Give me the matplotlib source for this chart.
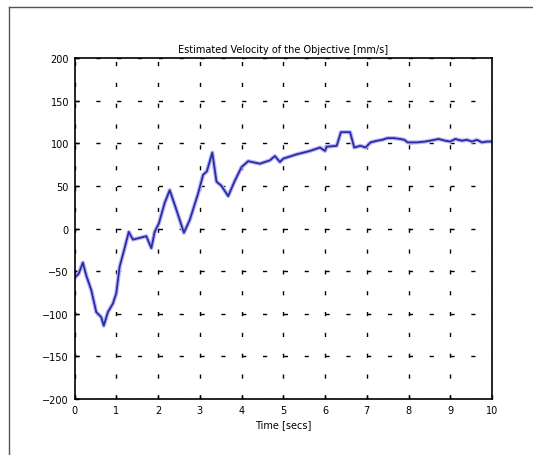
import numpy as np
import matplotlib
matplotlib.use("Agg")
import matplotlib.pyplot as plt
from matplotlib.lines import Line2D

# time samples (secs) and estimated velocity (mm/s)
time_s = [0, 0.1, 0.2, 0.28, 0.4, 0.52, 0.64, 0.7, 0.8, 0.92,
          1.0, 1.08, 1.2, 1.3, 1.4, 1.56, 1.72, 1.84, 1.92, 2.02,
          2.16, 2.28, 2.44, 2.62, 2.76, 2.96, 3.08, 3.17, 3.3, 3.4,
          3.52, 3.68, 3.84, 4.0, 4.16, 4.44, 4.68, 4.8, 4.92, 5.0,
          5.32, 5.64, 5.88, 6.0, 6.04, 6.28, 6.38, 6.6, 6.7, 6.85,
          6.97, 7.09, 7.25, 7.37, 7.49, 7.65, 7.8, 7.9, 7.98, 8.2,
          8.4, 8.52, 8.72, 8.88, 9.0, 9.12, 9.28, 9.4, 9.52, 9.64,
          9.76, 9.88, 10.0]
velocity = [-58, -53, -40, -55, -72, -98, -104, -114, -98, -88,
            -76, -45, -23, -4, -13, -11, -9, -23, -4, 6,
            30, 45, 22, -5, 10, 41, 63, 67, 89, 55,
            50, 38, 56, 72, 79, 76, 80, 85, 78, 82,
            87, 91, 95, 91, 96, 97, 113, 113, 95, 97,
            95, 101, 103, 104, 106, 106, 105, 104, 101, 101,
            102, 103, 105, 103, 102, 105, 103, 104, 102, 104,
            101, 102, 102]

x_ticks = list(range(0, 11))
y_ticks = list(range(-200, 201, 50))

fig = plt.figure(figsize=(5.33, 4.56), dpi=100)
ax = fig.add_axes([0.1398, 0.1228, 0.7833, 0.7478])

# soft halo + main line
ax.plot(time_s, velocity, color="#b8b8f0", linewidth=3.0, solid_joinstyle="round")
ax.plot(time_s, velocity, color="#2a2aa8", linewidth=1.3, solid_joinstyle="round")

ax.set_xlim(0, 10)
ax.set_ylim(-200, 200)
ax.set_xticks(x_ticks)
ax.set_yticks(y_ticks)
ax.tick_params(direction="in", length=3, width=1, labelsize=7, pad=4)
ax.grid(True, color="black", linewidth=1.0, linestyle=(0, (3, 12)))
for s in ax.spines.values():
    s.set_linewidth(1.2)

ax.set_title("Estimated Velocity of the Objective [mm/s]", fontsize=7, pad=4)
ax.set_xlabel("Time [secs]", fontsize=7, labelpad=3)

# frame of the cropped window
fig.add_artist(Line2D([0.0169, 1.0], [0.9825, 0.9825], color="#555555", linewidth=1.0))
fig.add_artist(Line2D([0.0169, 0.0169], [0.0, 0.9825], color="#555555", linewidth=1.0))

fig.savefig("out.png", dpi=100)
